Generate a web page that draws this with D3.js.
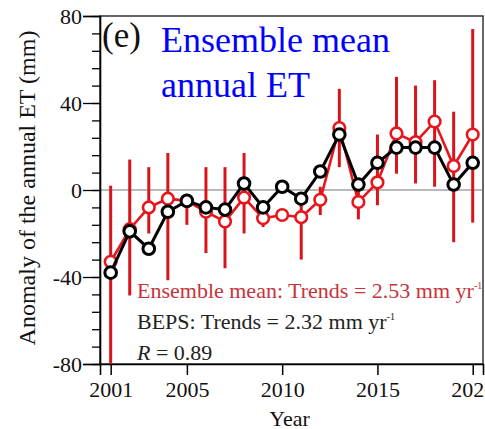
<!DOCTYPE html>
<html>
<head>
<meta charset="utf-8">
<script src="https://cdn.jsdelivr.net/npm/d3@7"></script>
<style>
  body { margin: 0; background: #fff; }
  svg { display: block; font-family: "Liberation Serif", "Times New Roman", serif; }
</style>
</head>
<body>
<div id="chart"></div>
<script>
// data (anomaly of annual ET, mm)
var years = d3.range(2001, 2021);
var bepsValues = [-38, -19, -27, -10, -5, -8, -9, 3, -8, 1.5, -4, 8.5, 25.5, 2.5, 12.5, 19.5, 19.5, 19.5, 2.5, 12.5];
var ensValues = [-33, -18, -8, -4, -5, -10, -14.5, -3.5, -13, -11.5, -12.5, -4.5, 28.5, -5.5, 3.5, 26, 22, 31.5, 11, 25.5];
var ensHigh = [2, 14, 10.5, 17, -2, 10.5, 10.5, 17, -9, -9, -5, 1.5, 46.5, 2.5, 25.5, 52, 48, 50.5, 36, 74];
var ensLow = [-90, -48.5, -20, -41.5, -16, -29, -36, -20, -17, -14, -32, -11.5, 10.5, -13.5, -7, 7.5, 3, 1.5, -24, -15];
var xTickValues = [2001, 2005, 2010, 2015, 2020];
var yTickValues = [-80, -40, 0, 40, 80];

var width = 485, height = 429;
// plot box edges (window.top is reserved, so no plain "top")
var pLeft = 100, pRight = 483, pTop = 16, pBottom = 364;

var svg = d3.select("#chart").append("svg")
    .attr("width", width)
    .attr("height", height);

var x = d3.scaleLinear().domain([2000.44, 2020.54]).range([pLeft, pRight]);
var y = d3.scaleLinear().domain([-80, 80]).range([pBottom, pTop]);

svg.append("clipPath").attr("id", "plotClip")
  .append("rect")
    .attr("x", pLeft).attr("y", pTop)
    .attr("width", pRight - pLeft).attr("height", pBottom - pTop);

// frame (top + right)
svg.append("rect")
    .attr("x", pLeft).attr("y", pTop)
    .attr("width", pRight - pLeft).attr("height", pBottom - pTop)
    .attr("fill", "none")
    .attr("stroke", "#333")
    .attr("stroke-width", 1.5);

// zero line
svg.append("line")
    .attr("x1", pLeft).attr("x2", pRight)
    .attr("y1", y(0)).attr("y2", y(0))
    .attr("stroke", "#777")
    .attr("stroke-width", 1.2);

// plain hyphen for negatives, like the original figure
var plainFormat = function (d) { return String(d); };

// y axis: minor ticks every 8, labelled ticks every 40
var yMinor = d3.axisLeft(y).tickValues(d3.range(-80, 81, 8)).tickSize(8).tickFormat("");
svg.append("g").attr("transform", "translate(" + pLeft + ",0)").call(yMinor)
    .call(function (g) { g.select(".domain").remove(); })
    .selectAll("line").attr("stroke", "#000").attr("stroke-width", 1.3);

var yAxis = d3.axisLeft(y).tickValues(yTickValues).tickSize(17).tickPadding(1).tickFormat(plainFormat);
var gy = svg.append("g").attr("transform", "translate(" + pLeft + ",0)").call(yAxis);
gy.select(".domain").attr("stroke", "#000").attr("stroke-width", 1.6);
gy.selectAll("line").attr("stroke", "#000").attr("stroke-width", 1.3);
gy.selectAll("text")
    .attr("font-family", "Liberation Serif, serif")
    .attr("font-size", 22)
    .attr("fill", "#111")
    .attr("dy", "0.34em");

var xAxis = d3.axisBottom(x).tickValues(xTickValues).tickSize(11).tickPadding(6).tickFormat(plainFormat);
var gx = svg.append("g").attr("transform", "translate(0," + pBottom + ")").call(xAxis);
gx.select(".domain").attr("stroke", "#000").attr("stroke-width", 1.6);
gx.selectAll("line").attr("stroke", "#000").attr("stroke-width", 1.5);
gx.selectAll("text")
    .attr("font-family", "Liberation Serif, serif")
    .attr("font-size", 22)
    .attr("fill", "#111");

// axis titles
svg.append("text")
    .attr("x", (pLeft + pRight) / 2 - 2)
    .attr("y", 426)
    .attr("text-anchor", "middle")
    .attr("font-size", 22)
    .attr("fill", "#111")
    .text("Year");

svg.append("text")
    .attr("transform", "translate(35," + ((pTop + pBottom) / 2 - 2) + ") rotate(-90)")
    .attr("text-anchor", "middle")
    .attr("font-size", 24)
    .attr("fill", "#111")
    .text("Anomaly of the annual ET (mm)");

var plot = svg.append("g").attr("clip-path", "url(#plotClip)");

// ensemble error bars
plot.selectAll(".errbar")
    .data(years)
    .enter()
    .append("line")
    .attr("class", "errbar")
    .attr("x1", function (d) { return x(d); })
    .attr("x2", function (d) { return x(d); })
    .attr("y1", function (d, i) { return y(ensHigh[i]); })
    .attr("y2", function (d, i) { return y(ensLow[i]); })
    .attr("stroke", "#d9141b")
    .attr("stroke-width", 3);

var line = d3.line()
    .x(function (d) { return x(d[0]); })
    .y(function (d) { return y(d[1]); });

var ensPts = years.map(function (d, i) { return [d, ensValues[i]]; });
var bepsPts = years.map(function (d, i) { return [d, bepsValues[i]]; });

plot.append("path")
    .datum(ensPts)
    .attr("d", line)
    .attr("fill", "none")
    .attr("stroke", "#e8161c")
    .attr("stroke-width", 2.6);

plot.selectAll(".ensDot")
    .data(ensPts)
    .enter()
    .append("circle")
    .attr("class", "ensDot")
    .attr("cx", function (d) { return x(d[0]); })
    .attr("cy", function (d) { return y(d[1]); })
    .attr("r", 5.8)
    .attr("fill", "#fff")
    .attr("stroke", "#e8161c")
    .attr("stroke-width", 2.6);

plot.append("path")
    .datum(bepsPts)
    .attr("d", line)
    .attr("fill", "none")
    .attr("stroke", "#000")
    .attr("stroke-width", 3);

plot.selectAll(".bepsDot")
    .data(bepsPts)
    .enter()
    .append("circle")
    .attr("class", "bepsDot")
    .attr("cx", function (d) { return x(d[0]); })
    .attr("cy", function (d) { return y(d[1]); })
    .attr("r", 5.8)
    .attr("fill", "#fff")
    .attr("stroke", "#000")
    .attr("stroke-width", 3);

// panel label and title
svg.append("text")
    .attr("x", 102).attr("y", 47)
    .attr("font-size", 35)
    .attr("fill", "#111")
    .text("(e)");

svg.append("text")
    .attr("x", 161).attr("y", 52)
    .attr("font-size", 36)
    .attr("fill", "#0000ff")
    .text("Ensemble mean");

svg.append("text")
    .attr("x", 161).attr("y", 97)
    .attr("font-size", 36)
    .attr("fill", "#0000ff")
    .text("annual ET");

// trend annotations
var t1 = svg.append("text")
    .attr("x", 137).attr("y", 298)
    .attr("font-size", 22)
    .attr("fill", "#c8323a");
t1.append("tspan").text("Ensemble mean: Trends = 2.53 mm yr");
t1.append("tspan").attr("font-size", 10).attr("dy", -9).text("-1");

var t2 = svg.append("text")
    .attr("x", 137).attr("y", 329)
    .attr("font-size", 22)
    .attr("fill", "#222");
t2.append("tspan").text("BEPS: Trends = 2.32 mm yr");
t2.append("tspan").attr("font-size", 10).attr("dy", -9).text("-1");

var t3 = svg.append("text")
    .attr("x", 137).attr("y", 360)
    .attr("font-size", 22)
    .attr("fill", "#222");
t3.append("tspan").attr("font-style", "italic").text("R");
t3.append("tspan").text(" = 0.89");
</script>
</body>
</html>
